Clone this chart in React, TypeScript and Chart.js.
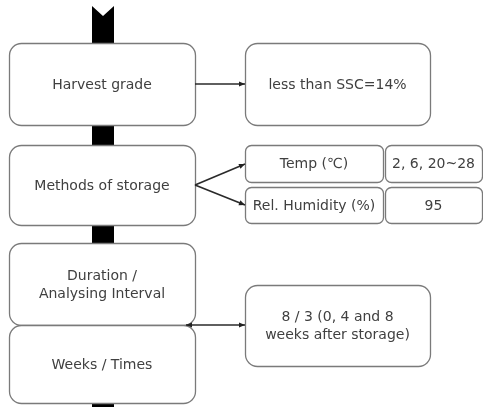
import React, { useEffect, useRef } from "react";
import { Chart, registerables } from "chart.js";
Chart.register(...registerables);

// Flowchart nodes (in chart units: x 0..483, y 0..407 top-down)
const nodeLabels: string[][] = [
  ["Harvest grade"],
  ["less than SSC=14%"],
  ["Methods of storage"],
  ["Temp (℃)"],
  ["2, 6, 20~28"],
  ["Rel. Humidity (%)"],
  ["95"],
  ["Duration /", "Analysing Interval"],
  ["Weeks / Times"],
  ["8 / 3 (0, 4 and 8", "weeks after storage)"],
];
const nodeLeft = [9, 245, 9, 245, 385, 245, 385, 9, 9, 245];
const nodeRight = [195, 430, 195, 383, 482, 383, 482, 195, 195, 430];
const nodeTop = [43, 43, 145, 145, 145, 187, 187, 243, 325, 285];
const nodeBottom = [125, 125, 225, 182, 182, 223, 223, 325, 403, 366];
const nodeRadius = [12, 12, 12, 6, 6, 6, 6, 12, 12, 12];

// Connectors: start -> end
const linkX0 = [195, 195, 195, 186];
const linkY0 = [84, 185, 185, 325];
const linkX1 = [245, 245, 245, 245];
const linkY1 = [84, 164, 205, 325];
const linkArrowStart = [false, false, false, true];

// Vertical spine
const spineLeft = 92;
const spineRight = 114;
const spineTop = 6;
const spineNotch = 16;
const spineBottom = 407;

const flowPlugin = {
  id: "flow",
  beforeDatasetsDraw(chart: any) {
    const ctx = chart.ctx;
    const xs = chart.scales.x;
    const ys = chart.scales.y;
    ctx.save();
    // spine
    ctx.fillStyle = "#000";
    ctx.beginPath();
    ctx.moveTo(xs.getPixelForValue(spineLeft), ys.getPixelForValue(spineTop));
    ctx.lineTo(xs.getPixelForValue((spineLeft + spineRight) / 2), ys.getPixelForValue(spineNotch));
    ctx.lineTo(xs.getPixelForValue(spineRight), ys.getPixelForValue(spineTop));
    ctx.lineTo(xs.getPixelForValue(spineRight), ys.getPixelForValue(spineBottom));
    ctx.lineTo(xs.getPixelForValue(spineLeft), ys.getPixelForValue(spineBottom));
    ctx.closePath();
    ctx.fill();
    // boxes
    for (let i = 0; i < nodeLabels.length; i++) {
      const x0 = xs.getPixelForValue(nodeLeft[i]);
      const x1 = xs.getPixelForValue(nodeRight[i]);
      const y0 = ys.getPixelForValue(nodeTop[i]);
      const y1 = ys.getPixelForValue(nodeBottom[i]);
      ctx.beginPath();
      ctx.roundRect(x0 + 0.5, y0 + 0.5, x1 - x0, y1 - y0, nodeRadius[i]);
      ctx.fillStyle = "#fff";
      ctx.fill();
      ctx.lineWidth = 1.3;
      ctx.strokeStyle = "#7a7a7a";
      ctx.stroke();
      ctx.fillStyle = "#404040";
      ctx.font = "14px 'DejaVu Sans', sans-serif";
      ctx.textAlign = "center";
      ctx.textBaseline = "middle";
      const lines = nodeLabels[i];
      const lh = 18;
      const cx = (x0 + x1) / 2;
      const cy = (y0 + y1) / 2 + 1;
      lines.forEach((t, k) => {
        ctx.fillText(t, cx, cy + (k - (lines.length - 1) / 2) * lh);
      });
    }
    ctx.restore();
  },
  afterDatasetsDraw(chart: any) {
    const ctx = chart.ctx;
    const xs = chart.scales.x;
    const ys = chart.scales.y;
    ctx.save();
    ctx.fillStyle = "#222";
    const head = (fx: number, fy: number, tx: number, ty: number) => {
      const a = Math.atan2(ty - fy, tx - fx);
      const L = 6, W = 2.6;
      ctx.beginPath();
      ctx.moveTo(tx, ty);
      ctx.lineTo(tx - L * Math.cos(a) + W * Math.sin(a), ty - L * Math.sin(a) - W * Math.cos(a));
      ctx.lineTo(tx - L * Math.cos(a) - W * Math.sin(a), ty - L * Math.sin(a) + W * Math.cos(a));
      ctx.closePath();
      ctx.fill();
    };
    for (let i = 0; i < linkX0.length; i++) {
      const ax = xs.getPixelForValue(linkX0[i]);
      const ay = ys.getPixelForValue(linkY0[i]);
      const bx = xs.getPixelForValue(linkX1[i]);
      const by = ys.getPixelForValue(linkY1[i]);
      head(ax, ay, bx, by);
      if (linkArrowStart[i]) head(bx, by, ax, ay);
    }
    ctx.restore();
  },
};

export default function App() {
  const ref = useRef<HTMLCanvasElement | null>(null);
  useEffect(() => {
    if (!ref.current) return;
    const datasets = linkX0.map((_, i) => ({
      type: "line" as const,
      data: [
        { x: linkX0[i], y: linkY0[i] },
        { x: linkX1[i], y: linkY1[i] },
      ],
      borderColor: "#2a2a2a",
      borderWidth: 1.6,
      pointRadius: 0,
      showLine: true,
      fill: false,
    }));
    const chart = new Chart(ref.current, {
      type: "scatter",
      data: { datasets },
      options: {
        animation: false,
        responsive: false,
        devicePixelRatio: 1,
        layout: { padding: 0 },
        plugins: { legend: { display: false }, tooltip: { enabled: false } },
        events: [],
        scales: {
          x: { type: "linear", min: 0, max: 483, display: false },
          y: { type: "linear", min: 0, max: 407, reverse: true, display: false },
        },
      },
      plugins: [flowPlugin],
    } as any);
    return () => chart.destroy();
  }, []);
  return (
    <div style={{ position: "absolute", left: 0, top: 0, width: 483, height: 407, background: "#fff" }}>
      <canvas ref={ref} width={483} height={407} style={{ width: 483, height: 407, display: "block" }} />
    </div>
  );
}
